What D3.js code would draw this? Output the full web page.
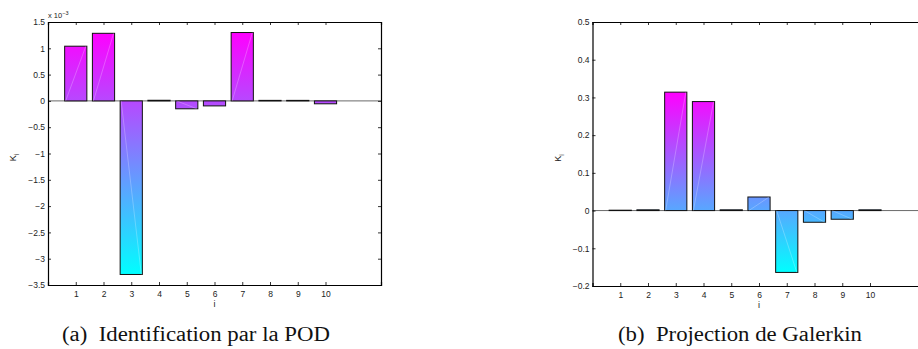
<!DOCTYPE html>
<html>
<head>
<meta charset="utf-8">
<script src="https://cdn.jsdelivr.net/npm/d3@7"></script>
<style>
  html, body { margin: 0; padding: 0; background: #fff; }
  svg { display: block; }
</style>
</head>
<body>
<svg id="chart" width="918" height="349"></svg>
<script>
// ---- data ----
const categories = [1, 2, 3, 4, 5, 6, 7, 8, 9, 10];
// (a) POD identification, values in units of 1e-3
const podValues = [1.04, 1.285, -3.30, 0.012, -0.15, -0.095, 1.30, 0.01, 0.01, -0.055];
// (b) Galerkin projection
const galerkinValues = [0.001, 0.002, 0.314, 0.289, 0.002, 0.036, -0.164, -0.031, -0.023, 0.002];
const podYTicks = [1.5, 1, 0.5, 0, -0.5, -1, -1.5, -2, -2.5, -3, -3.5];
const galerkinYTicks = [0.5, 0.4, 0.3, 0.2, 0.1, 0, -0.1, -0.2];
const xTicks = [1, 2, 3, 4, 5, 6, 7, 8, 9, 10];
const captions = ["(a)  Identification par la POD", "(b)  Projection de Galerkin"];
const yLabel = "K";
const yLabelSub = "i";
const xLabel = "i";

const svg = d3.select("#chart");
svg.append("rect").attr("width", 918).attr("height", 349).attr("fill", "#fff");
const defs = svg.append("defs");

const fmt = v => (v < 0 ? "\u2212" : "") + String(Math.abs(Math.round(v * 10) / 10));

function drawPanel(opts) {
  const { id, left, right, top, bottom, yDomain, values, yTicks, caption, capX0, capX1, yLabelX, exponent } = opts;
  const x = d3.scaleLinear().domain([0, 12]).range([left, right]);
  const y = d3.scaleLinear().domain(yDomain).range([bottom, top]);
  const g = svg.append("g");

  // colour gradient (cool colormap over data range)
  const vmax = d3.max(values), vmin = d3.min(values);
  const grad = defs.append("linearGradient").attr("id", "grad" + id)
    .attr("gradientUnits", "userSpaceOnUse")
    .attr("x1", 0).attr("x2", 0).attr("y1", y(vmax)).attr("y2", y(vmin));
  grad.append("stop").attr("offset", "0%").attr("stop-color", "#ff00ff");
  grad.append("stop").attr("offset", "100%").attr("stop-color", "#00ffff");

  // baseline
  g.append("line").attr("x1", x(0)).attr("x2", x(12)).attr("y1", y(0)).attr("y2", y(0))
    .attr("stroke", "#6a6a6a").attr("stroke-width", 1);

  const bw = 0.8;
  const bars = g.selectAll(".bar").data(values).enter();
  bars.append("rect")
    .attr("x", (d, i) => x(categories[i] - bw / 2))
    .attr("width", (d, i) => x(categories[i] + bw / 2) - x(categories[i] - bw / 2))
    .attr("y", d => Math.min(y(d), y(0)))
    .attr("height", d => Math.abs(y(d) - y(0)))
    .attr("fill", "url(#grad" + id + ")")
    .attr("stroke", "#111").attr("stroke-width", 1);
  // faint shading diagonal
  bars.append("line")
    .attr("x1", (d, i) => x(categories[i] - bw / 2) + 1)
    .attr("y1", y(0))
    .attr("x2", (d, i) => x(categories[i] + bw / 2) - 1)
    .attr("y2", d => y(d))
    .attr("stroke", "#fff").attr("stroke-opacity", d => Math.abs(y(d) - y(0)) > 6 ? 0.35 : 0)
    .attr("stroke-width", 0.7);

  const tickFont = "Liberation Sans, Arial, Helvetica, sans-serif";
  // axes
  const axL = g.append("g").attr("transform", `translate(${left},0)`)
    .call(d3.axisLeft(y).tickValues(yTicks).tickSize(-3).tickPadding(3).tickFormat(fmt));
  const axB = g.append("g").attr("transform", `translate(0,${bottom})`)
    .call(d3.axisBottom(x).tickValues(xTicks).tickSize(-3).tickPadding(6).tickFormat(d3.format("d")));
  const axT = g.append("g").attr("transform", `translate(0,${top})`)
    .call(d3.axisTop(x).tickValues(xTicks).tickSize(-3).tickFormat(""));
  const axR = g.append("g").attr("transform", `translate(${right},0)`)
    .call(d3.axisRight(y).tickValues(yTicks).tickSize(-3).tickFormat(""));
  [axL, axB, axT, axR].forEach(a => {
    a.select(".domain").attr("stroke", "#000").attr("stroke-width", 1.2);
    a.selectAll(".tick line").attr("stroke", "#000").attr("stroke-width", 0.8);
    a.selectAll("text").attr("font-family", tickFont).attr("font-size", 8.5).attr("fill", "#222");
  });

  if (exponent) {
    const t = g.append("text").attr("x", left).attr("y", 18)
      .attr("font-family", tickFont).attr("font-size", 7.5).attr("fill", "#222");
    t.append("tspan").text("x 10");
    t.append("tspan").attr("dy", -3).attr("font-size", 5.5).text(exponent);
  }

  // y label
  const yl = g.append("text")
    .attr("transform", `translate(${yLabelX},${(top + bottom) / 2 + 4}) rotate(-90)`)
    .attr("text-anchor", "middle")
    .attr("font-family", tickFont).attr("font-size", 9).attr("fill", "#222");
  yl.append("tspan").text(yLabel);
  yl.append("tspan").attr("dy", 2.5).attr("font-size", 6.5).text(yLabelSub);

  // x label
  g.append("text").attr("x", (left + right) / 2).attr("y", bottom + 22)
    .attr("text-anchor", "middle")
    .attr("font-family", tickFont).attr("font-size", 9).attr("fill", "#222").text(xLabel);

  // caption
  g.append("text").attr("x", capX0).attr("y", 341)
    .attr("text-anchor", "start").attr("xml:space", "preserve")
    .attr("textLength", capX1 - capX0).attr("lengthAdjust", "spacingAndGlyphs")
    .attr("font-family", "Liberation Serif, Times New Roman, serif").attr("font-size", 20)
    .attr("fill", "#111").text(caption);
}

drawPanel({
  id: "a", left: 48, right: 381, top: 22, bottom: 285, yDomain: [-3.5, 1.5],
  values: podValues, yTicks: podYTicks, caption: captions[0], capX0: 62, capX1: 330,
  yLabelX: 16, exponent: "\u22123"
});
drawPanel({
  id: "b", left: 592.5, right: 925.5, top: 22, bottom: 286, yDomain: [-0.2, 0.5],
  values: galerkinValues, yTicks: galerkinYTicks, caption: captions[1], capX0: 618, capX1: 862,
  yLabelX: 561, exponent: null
});
</script>
</body>
</html>
